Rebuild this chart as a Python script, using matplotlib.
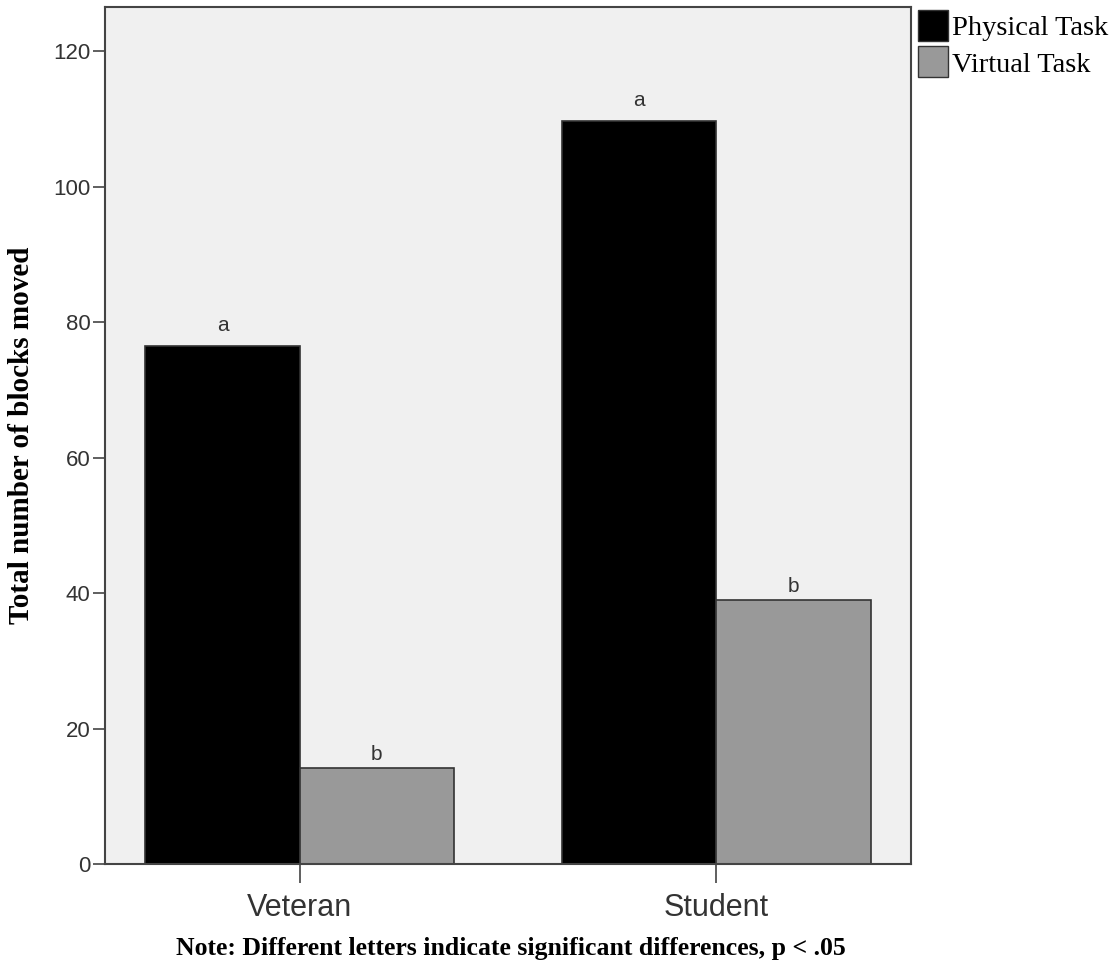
import numpy as np
import matplotlib
matplotlib.use("Agg")
import matplotlib.pyplot as plt
from matplotlib.patches import Patch

# data
groups = ["Veteran", "Student"]
physical = [76.5, 109.6]
virtual = [14.1, 38.9]
physical_letters = ["a", "a"]
virtual_letters = ["b", "b"]
yticks = [0, 20, 40, 60, 80, 100, 120]

fig = plt.figure(figsize=(11.2, 9.68), dpi=100)
ax = fig.add_axes([105/1120, 1 - 864/968, (911 - 105)/1120, (864 - 7)/968])
ax.set_facecolor("#f0f0f0")

x = np.arange(len(groups))
w = 0.37
b1 = ax.bar(x - w/2, physical, w, color="black", edgecolor="#333333", linewidth=1.2)
b2 = ax.bar(x + w/2, virtual, w, color="#999999", edgecolor="#333333", linewidth=1.2)

# significance letters above the bars
for bars, letters, off in [(b1, physical_letters, 8), (b2, virtual_letters, 3)]:
    for r, t in zip(bars, letters):
        ax.annotate(t, (r.get_x() + r.get_width()/2, r.get_height()),
                    xytext=(0, off), textcoords="offset points",
                    ha="center", va="bottom", fontsize=15,
                    family="Liberation Sans", color="#333333")

ax.set_xlim(-0.467, 1.467)
ax.set_ylim(0, 126.5)
ax.set_xticks(x)
ax.set_xticklabels(groups, fontsize=22, family="Liberation Sans", color="#333333")
ax.set_yticks(yticks)
ax.set_yticklabels([str(v) for v in yticks], fontsize=16, family="Liberation Sans", color="#333333")
ax.tick_params(axis="x", length=14, width=1.2, color="#444444", pad=7)
ax.tick_params(axis="y", length=9, width=1.2, color="#444444", pad=1.5)
for s in ax.spines.values():
    s.set_color("#444444")
    s.set_linewidth(1.5)

fig.text(22/1120, 1 - 435/968, "Total number of blocks moved", rotation=90,
         ha="center", va="center", fontsize=21, family="Liberation Serif", fontweight="bold")

fig.text(0.456, 1 - 948/968, "Note: Different letters indicate significant differences, p < .05",
         ha="center", va="center", fontsize=18.5, family="Liberation Serif", fontweight="bold")

handles = [Patch(facecolor="black", edgecolor="#333333", label="Physical Task"),
           Patch(facecolor="#999999", edgecolor="#333333", label="Virtual Task")]
fig.legend(handles=handles, loc="upper left", bbox_to_anchor=(912/1120, 1 - 4/968),
           frameon=False, prop={"family": "Liberation Serif", "size": 20.5},
           handlelength=1.05, handleheight=1.3, handletextpad=0.15, labelspacing=0.2,
           borderaxespad=0, borderpad=0.2)

fig.savefig("out.png", dpi=100)
